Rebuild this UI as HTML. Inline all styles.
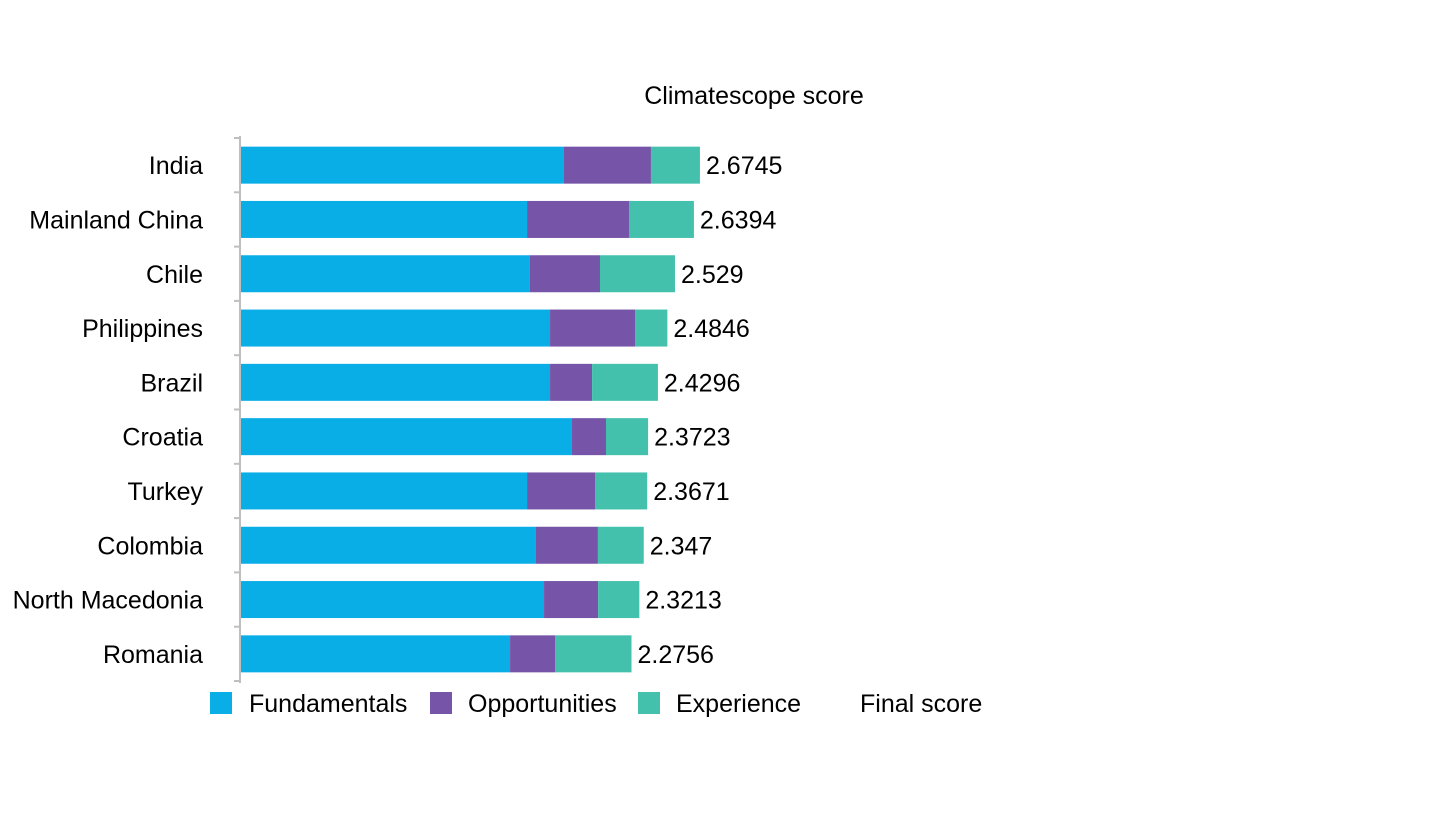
<!DOCTYPE html>
<html><head><meta charset="utf-8"><style>
html,body{margin:0;padding:0;background:#fff;}
svg text{font-family:"Liberation Sans",Arial,sans-serif;fill:#000;}
</style></head><body>
<svg id="chart" width="1440" height="810" viewBox="0 0 1440 810">
<text x="754" y="104" font-size="25" text-anchor="middle">Climatescope score</text>
<g id="plot"></g>
<g>
<rect x="210" y="692" width="22" height="22" fill="#0aaee6"/>
<text x="249" y="712" font-size="25">Fundamentals</text>
<rect x="430" y="692" width="22" height="22" fill="#7654a8"/>
<text x="468" y="712" font-size="25">Opportunities</text>
<rect x="638" y="692" width="22" height="22" fill="#44c1ad"/>
<text x="676" y="712" font-size="25">Experience</text>
<text x="860" y="712" font-size="25">Final score</text>
</g>
</svg>
<script>
const categories=["India","Mainland China","Chile","Philippines","Brazil","Croatia","Turkey","Colombia","North Macedonia","Romania"];
const fundamentals=[1.882,1.667,1.684,1.801,1.801,1.929,1.667,1.719,1.766,1.568];
const opportunities=[0.507,0.594,0.408,0.495,0.245,0.198,0.396,0.361,0.315,0.262];
const experience=[0.2855,0.3784,0.437,0.1886,0.3836,0.2453,0.3041,0.267,0.2403,0.4456];
const finalScores=["2.6745","2.6394","2.529","2.4846","2.4296","2.3723","2.3671","2.347","2.3213","2.2756"];
const NS="http://www.w3.org/2000/svg";
const x0=241,pxPerUnit=171.6,topY=138,step=54.3,barH=37;
const xs=v=>x0+v*pxPerUnit;
const yc=i=>topY+step*i+step/2;
const g=document.getElementById('plot');
function mk(tag,attrs){const e=document.createElementNS(NS,tag);for(const k in attrs)e.setAttribute(k,attrs[k]);g.appendChild(e);return e;}
const colors=["#0aaee6","#7654a8","#44c1ad"];
const names=["fundamentals","opportunities","experience"];
categories.forEach((c,i)=>{
  const vals=[fundamentals[i],opportunities[i],experience[i]];
  let acc=0;
  vals.forEach((v,j)=>{
    const r=mk('rect',{x:xs(acc),y:yc(i)-barH/2,width:v*pxPerUnit,height:barH,fill:colors[j]});
    
    
    acc+=v;
  });
  const t=mk('text',{x:xs(acc)+6,y:yc(i)+9,'font-size':25});
  t.textContent=finalScores[i];
  
  
  const l=mk('text',{x:203,y:yc(i)+9,'font-size':25,'text-anchor':'end'});
  l.textContent=c;
  
  
});
const ax=mk('line',{x1:240,x2:240,y1:topY-2,y2:topY+step*categories.length+2,stroke:'#bfbfbf','stroke-width':2});


for(let i=0;i<=categories.length;i++){
  const tk=mk('line',{x1:234,x2:240,y1:topY+step*i,y2:topY+step*i,stroke:'#bfbfbf','stroke-width':2});
  
  
}
</script>
</body></html>
